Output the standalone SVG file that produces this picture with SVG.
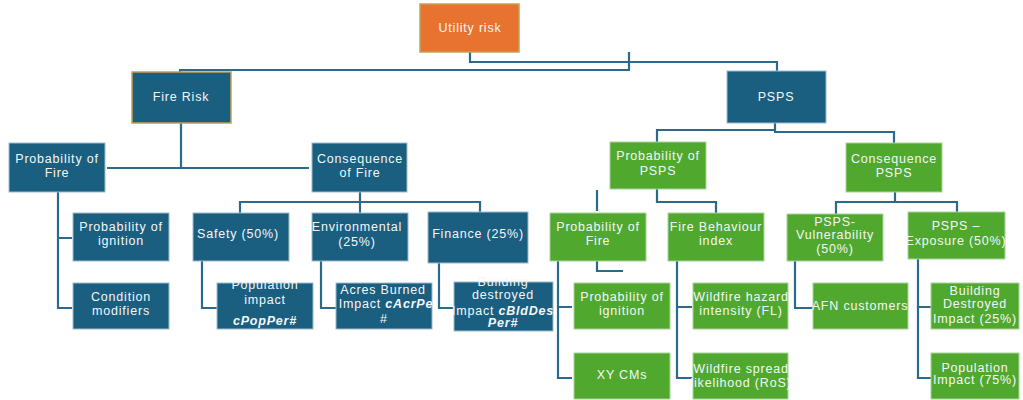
<svg xmlns="http://www.w3.org/2000/svg" width="1023" height="400" viewBox="0 0 1023 400">
<style>
  .b{fill:#1a5e80;stroke:#9dbccc;stroke-width:1}
  .g{fill:#50a82f;stroke:#a8d49a;stroke-width:1}
  .o{fill:#e87230;stroke:#c4a055;stroke-width:1.5}
  .gold{stroke:#c4a055;stroke-width:1.5}
  text{font-family:"Liberation Sans",Arial,sans-serif;font-size:12.5px;fill:#f4f7f9;text-anchor:middle;letter-spacing:0.8px}
  .it{font-style:italic;font-weight:bold}
  .c{fill:none;stroke:#2c6a8c;stroke-width:2.2}
</style>
<rect width="1023" height="400" fill="#ffffff"/>
<g id="connectors">
  <path class="c" d="M470,52 V62 H777 V71"/>
  <path class="c" d="M629,52 V70 H180 V72"/>
  <path class="c" d="M181,123 V168 M107,168 H309"/>
  <path class="c" d="M360,192 V213 M240,213 V202 H480 V212"/>
  <path class="c" d="M58,192 V308 H72 M58,238 H72"/>
  <path class="c" d="M202,261 V308 H217"/>
  <path class="c" d="M321,261 V308 H336"/>
  <path class="c" d="M439,263 V308 H454"/>
  <path class="c" d="M775,123 V130 H657 V142 M775,130 V132 H894 V143"/>
  <path class="c" d="M597,190 V211"/>
  <path class="c" d="M657,189 V202 H716 V213"/>
  <path class="c" d="M597,261 V271 H623"/>
  <path class="c" d="M558,261 V378 H572 M558,307 H572"/>
  <path class="c" d="M677,261 V378 H692 M677,307 H692"/>
  <path class="c" d="M895,192 V202 H836 V214 M895,202 H957 V212"/>
  <path class="c" d="M795,261 V308 H813"/>
  <path class="c" d="M918,259 V378 H931 M918,307 H931"/>
</g>
<g id="n-utility"><rect class="o" x="420" y="4" width="99" height="48"/><text x="470" y="32">Utility risk</text></g>
<g id="n-firerisk"><rect class="b gold" x="132" y="72" width="99" height="51"/><text x="181" y="101">Fire Risk</text></g>
<g id="n-psps"><rect class="b" x="727" y="71" width="99" height="52"/><text x="776" y="101">PSPS</text></g>
<g id="n-probfire"><rect class="b" x="9" y="143" width="96" height="49"/><text x="57" y="163">Probability of</text><text x="57" y="177">Fire</text></g>
<g id="n-consfire"><rect class="b" x="312" y="143" width="95" height="49"/><text x="360" y="163">Consequence</text><text x="360" y="177">of Fire</text></g>
<g id="n-probpsps"><rect class="g" x="610" y="142" width="96" height="47"/><text x="658" y="160">Probability of</text><text x="658" y="175">PSPS</text></g>
<g id="n-conspsps"><rect class="g" x="846" y="143" width="96" height="49"/><text x="894" y="163">Consequence</text><text x="894" y="177">PSPS</text></g>
<g id="n-probign"><rect class="b" x="73" y="213" width="96" height="48"/><text x="121" y="231">Probability of</text><text x="121" y="245">ignition</text></g>
<g id="n-condmod"><rect class="b" x="73" y="283" width="96" height="46"/><text x="121" y="301">Condition</text><text x="121" y="315">modifiers</text></g>
<g id="n-safety"><rect class="b" x="193" y="213" width="96" height="48"/><text x="238" y="238">Safety (50%)</text></g>
<g id="n-env"><rect class="b" x="312" y="213" width="96" height="48"/><text x="357" y="231">Environmental</text><text x="357" y="246">(25%)</text></g>
<g id="n-finance"><rect class="b" x="428" y="212" width="100" height="51"/><text x="478" y="238">Finance (25%)</text></g>
<g id="n-popimpact"><rect class="b" x="217" y="283" width="96" height="46"/><text x="265" y="289">Population</text><text x="265" y="304">impact</text><text class="it" x="265" y="325">cPopPer#</text></g>
<g id="n-acres"><rect class="b" x="336" y="283" width="96" height="46"/><text x="383" y="294">Acres Burned</text><text x="386" y="308">Impact  <tspan class="it">cAcrPe</tspan></text><text x="384" y="323">#</text></g>
<g id="n-bldg"><rect class="b" x="454" y="282" width="99" height="49"/><text x="503" y="286">Building</text><text x="503" y="299">destroyed</text><text x="503" y="315">Impact <tspan class="it">cBldDes</tspan></text><text class="it" x="503" y="327">Per#</text></g>
<g id="n-gprobfire"><rect class="g" x="550" y="213" width="96" height="48"/><text x="598" y="231">Probability of</text><text x="598" y="245">Fire</text></g>
<g id="n-fbi"><rect class="g" x="668" y="213" width="96" height="48"/><text x="716" y="231">Fire Behaviour</text><text x="716" y="245">index</text></g>
<g id="n-gprobign"><rect class="g" x="574" y="283" width="96" height="46"/><text x="622" y="301">Probability of</text><text x="622" y="315">ignition</text></g>
<g id="n-xycms"><rect class="g" x="574" y="353" width="96" height="46"/><text x="622" y="379">XY CMs</text></g>
<g id="n-hazard"><rect class="g" x="693" y="283" width="95" height="46"/><text x="741" y="301">Wildfire hazard</text><text x="741" y="315">intensity (FL)</text></g>
<g id="n-spread"><rect class="g" x="693" y="353" width="95" height="46"/><text x="741" y="373">Wildfire spread</text><text x="741" y="387">likelihood (RoS)</text></g>
<g id="n-vuln"><rect class="g" x="787" y="214" width="96" height="47"/><text x="835" y="226">PSPS-</text><text x="835" y="239">Vulnerability</text><text x="835" y="253">(50%)</text></g>
<g id="n-expo"><rect class="g" x="908" y="212" width="97" height="47"/><text x="956" y="230">PSPS –</text><text x="956" y="245">Exposure (50%)</text></g>
<g id="n-afn"><rect class="g" x="813" y="283" width="95" height="46"/><text x="860" y="310">AFN customers</text></g>
<g id="n-bldimp"><rect class="g" x="931" y="283" width="88" height="46"/><text x="975" y="295">Building</text><text x="975" y="308">Destroyed</text><text x="975" y="323">Impact (25%)</text></g>
<g id="n-popimp"><rect class="g" x="931" y="353" width="88" height="46"/><text x="975" y="372">Population</text><text x="975" y="384">Impact (75%)</text></g>
</svg>
